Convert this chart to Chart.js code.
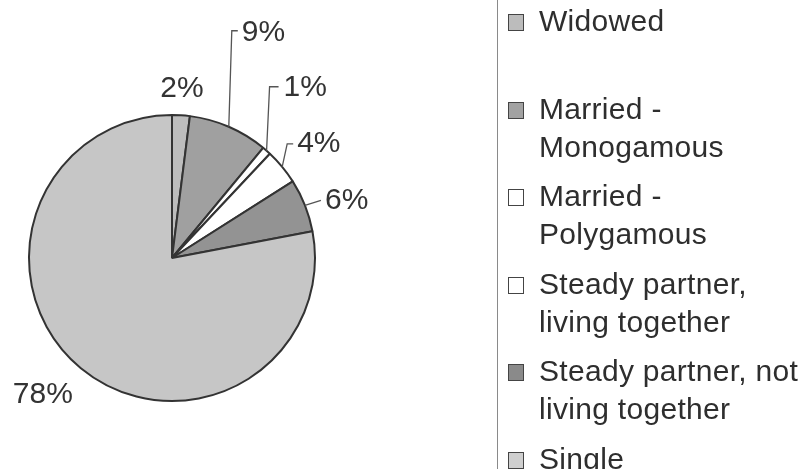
<!DOCTYPE html>
<html>
<head>
<meta charset="utf-8">
<script src="https://cdn.jsdelivr.net/npm/chart.js@4"></script>
<style>
  html, body { margin: 0; padding: 0; background: #ffffff; }
  #wrap { position: relative; width: 804px; height: 469px; overflow: hidden; }
  #chart { position: absolute; left: 0; top: 0; }
  #legend { position: absolute; left: 497px; top: 0; width: 307px; height: 469px;
            border-left: 1.5px solid #8a8a8a; font-family: "Liberation Sans", Arial, sans-serif;
            font-size: 30px; color: #2e2e2e; }
  .item { position: absolute; left: 10px; height: 87.5px; }
  .box { position: absolute; left: 0; top: 12px; width: 16px; height: 17px; border: 1.5px solid #444; box-sizing: border-box; }
  .txt { position: absolute; left: 31px; top: 0; line-height: 38px; white-space: nowrap; letter-spacing: 0.3px; }
</style>
</head>
<body>
<div id="wrap">
  <canvas id="chart" width="804" height="469"></canvas>
  <div id="legend"></div>
</div>
<script>
// ---- data ----
const categories = [
  "Widowed",
  "Married - Monogamous",
  "Married - Polygamous",
  "Steady partner, living together",
  "Steady partner, not living together",
  "Single"
];
const legendLines = [
  ["Widowed"],
  ["Married -", "Monogamous"],
  ["Married -", "Polygamous"],
  ["Steady partner,", "living together"],
  ["Steady partner, not", "living together"],
  ["Single"]
];
const percentages = [2, 9, 1, 4, 6, 78];
const pctLabels = ["2%", "9%", "1%", "4%", "6%", "78%"];

// ---- style ----
const sliceColors = ["#bdbdbd", "#a0a0a0", "#ffffff", "#ffffff", "#939393", "#c6c6c6"];
const legendColors = ["#bcbcbc", "#a2a2a2", "#ffffff", "#ffffff", "#8a8a8a", "#cfcfcf"];
// label placement relative to the slice's outer mid-point (style only)
const labelStyle = [
  { text: [1, -27], align: "center" },
  { elbow: [3, -96], tail: 6, text: [13, -94], align: "left" },
  { elbow: [3, -64], tail: 9, text: [17, -63], align: "left" },
  { elbow: [5, -23], tail: 6, text: [15, -23], align: "left" },
  { elbow: [16, -5], tail: 0, text: [20, -5], align: "left" },
  { text: [-38, 27], align: "center" }
];

const labelPlugin = {
  id: "pctLabels",
  afterDatasetsDraw(chart) {
    const ctx = chart.ctx;
    const arcs = chart.getDatasetMeta(0).data;
    ctx.save();
    ctx.font = "30px 'Liberation Sans', Arial, sans-serif";
    ctx.fillStyle = "#333333";
    ctx.strokeStyle = "#555555";
    ctx.lineWidth = 1.3;
    ctx.textBaseline = "middle";
    arcs.forEach((arc, i) => {
      const p = arc.getProps(["x", "y", "startAngle", "endAngle", "outerRadius"], true);
      const a = (p.startAngle + p.endAngle) / 2;
      const px = p.x + p.outerRadius * Math.cos(a);
      const py = p.y + p.outerRadius * Math.sin(a);
      const s = labelStyle[i];
      if (s.elbow) {
        const ex = px + s.elbow[0], ey = py + s.elbow[1];
        ctx.beginPath();
        ctx.moveTo(px, py);
        ctx.lineTo(ex, ey);
        if (s.tail) ctx.lineTo(ex + s.tail, ey);
        ctx.stroke();
      }
      ctx.textAlign = s.align;
      ctx.fillText(pctLabels[i], px + s.text[0], py + s.text[1]);
    });
    ctx.restore();
  }
};

new Chart(document.getElementById("chart"), {
  type: "pie",
  data: {
    labels: categories,
    datasets: [{
      data: percentages,
      backgroundColor: sliceColors,
      borderColor: "#333333",
      borderWidth: 2
    }]
  },
  options: {
    responsive: false,
    animation: false,
    layout: { padding: { left: 28, top: 114, right: 488, bottom: 67 } },
    plugins: { legend: { display: false }, tooltip: { enabled: false } }
  },
  plugins: [labelPlugin]
});

// ---- HTML legend ----
const legend = document.getElementById("legend");
legendLines.forEach((lines, i) => {
  const item = document.createElement("div");
  item.className = "item";
  item.style.top = (2 + i * 87.6) + "px";
  const box = document.createElement("div");
  box.className = "box";
  box.style.background = legendColors[i];
  const txt = document.createElement("div");
  txt.className = "txt";
  txt.innerHTML = lines.join("<br>");
  item.appendChild(box);
  item.appendChild(txt);
  legend.appendChild(item);
});
</script>
</body>
</html>
